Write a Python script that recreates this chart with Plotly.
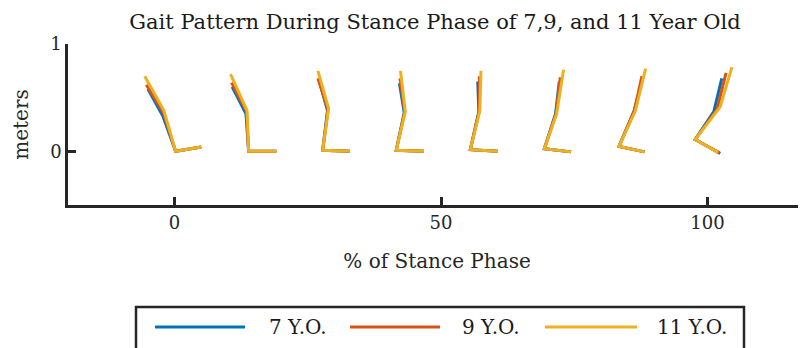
import plotly.graph_objects as go

# ---------------- data (metres / % stance) ----------------
series_names = ["7 Y.O.", "9 Y.O.", "11 Y.O."]
series_colors = ["#0072BD", "#D95319", "#EDB120"]

# 7 Y.O.
hip_x_7 = [-5.0, 10.8, 27.1, 42.2, 56.9, 72.2, 87.7, 102.7]
hip_y_7 = [0.58, 0.60, 0.665, 0.635, 0.65, 0.65, 0.65, 0.68]
knee_x_7 = [-2.2, 13.4, 28.7, 43.1, 57.1, 71.5, 86.2, 101.2]
knee_y_7 = [0.33, 0.35, 0.38, 0.36, 0.37, 0.35, 0.37, 0.37]
ankle_x_7 = [0.2, 13.9, 27.8, 41.6, 55.5, 69.4, 83.4, 97.7]
ankle_y_7 = [0.00, 0.00, 0.01, 0.01, 0.015, 0.025, 0.045, 0.11]
toe_x_7 = [5.0, 19.1, 32.9, 46.8, 60.7, 74.4, 88.2, 102.4]
toe_y_7 = [0.04, 0.00, 0.00, 0.00, 0.00, -0.005, -0.005, -0.02]

# 9 Y.O.
hip_x_9 = [-5.3, 10.7, 26.9, 42.3, 57.2, 72.4, 87.7, 103.5]
hip_y_9 = [0.62, 0.64, 0.68, 0.68, 0.70, 0.69, 0.70, 0.73]
knee_x_9 = [-2.1, 13.5, 28.8, 43.2, 57.2, 71.6, 86.3, 101.8]
knee_y_9 = [0.36, 0.37, 0.39, 0.37, 0.38, 0.35, 0.38, 0.39]
ankle_x_9 = [0.2, 13.9, 27.8, 41.6, 55.5, 69.4, 83.4, 97.7]
ankle_y_9 = [0.00, 0.00, 0.01, 0.01, 0.015, 0.025, 0.045, 0.11]
toe_x_9 = [5.0, 19.1, 32.9, 46.8, 60.7, 74.4, 88.2, 102.3]
toe_y_9 = [0.04, 0.00, 0.00, 0.00, 0.00, -0.005, -0.005, -0.015]

# 11 Y.O.
hip_x_11 = [-5.6, 10.5, 26.9, 42.4, 57.5, 73.0, 88.4, 104.6]
hip_y_11 = [0.70, 0.72, 0.75, 0.75, 0.75, 0.76, 0.77, 0.785]
knee_x_11 = [-2.0, 13.6, 28.9, 43.3, 57.3, 71.7, 86.5, 102.4]
knee_y_11 = [0.38, 0.38, 0.40, 0.37, 0.38, 0.35, 0.38, 0.415]
ankle_x_11 = [0.2, 13.9, 27.8, 41.6, 55.5, 69.4, 83.4, 97.7]
ankle_y_11 = [0.00, 0.00, 0.01, 0.01, 0.015, 0.025, 0.045, 0.11]
toe_x_11 = [5.0, 19.1, 32.9, 46.8, 60.7, 74.4, 88.2, 102.0]
toe_y_11 = [0.04, 0.00, 0.00, 0.00, 0.00, -0.005, -0.005, -0.01]

x_ticks = [0, 50, 100]
y_ticks = [0, 1]

series = [
    (hip_x_7, hip_y_7, knee_x_7, knee_y_7, ankle_x_7, ankle_y_7, toe_x_7, toe_y_7),
    (hip_x_9, hip_y_9, knee_x_9, knee_y_9, ankle_x_9, ankle_y_9, toe_x_9, toe_y_9),
    (hip_x_11, hip_y_11, knee_x_11, knee_y_11, ankle_x_11, ankle_y_11, toe_x_11, toe_y_11),
]

FONT = "DejaVu Serif"
AX = "#262626"
TXT = "#1a1a1a"

fig = go.Figure()
for name, color, s in zip(series_names, series_colors, series):
    hx, hy, kx, ky, ax_, ay, tx, ty = s
    xs, ys = [], []
    for i in range(len(hx)):
        xs += [hx[i], kx[i], ax_[i], tx[i], None]
        ys += [hy[i], ky[i], ay[i], ty[i], None]
    fig.add_trace(go.Scatter(x=xs, y=ys, mode="lines", name=name,
                             line=dict(color=color, width=3),
                             showlegend=False, hoverinfo="skip"))

# ---------------- layout geometry (page has an 8px body margin) ----------------
W, H = 798, 340
ml, mr, mt, mb = 60, 0, 36, 143
PL, PR, PT, PB = 68, 806, 44, 205   # plot area in page pixels


def px2x(px):
    return (px - PL) / (PR - PL)


def py2y(py):
    return (PB - py) / (PB - PT)


# ---------------- manual legend (long sample lines like MATLAB) ----------------
shapes = [dict(type="rect", xref="paper", yref="paper",
               x0=px2x(136), x1=px2x(744), y0=py2y(360), y1=py2y(307),
               line=dict(color=AX, width=2.5), fillcolor="white", layer="above")]
annots = []
leg_line_x = [(155, 245), (350, 440), (545, 637)]
leg_text_x = [267, 460, 655]
for (x0, x1), tx0, name, color in zip(leg_line_x, leg_text_x, series_names, series_colors):
    shapes.append(dict(type="line", xref="paper", yref="paper",
                       x0=px2x(x0), x1=px2x(x1), y0=py2y(327), y1=py2y(327),
                       line=dict(color=color, width=3), layer="above"))
    annots.append(dict(text=name, xref="paper", yref="paper", x=px2x(tx0), y=py2y(327),
                       xanchor="left", yanchor="middle", showarrow=False,
                       font=dict(family=FONT, size=20, color=TXT)))

fig.update_layout(
    width=W, height=H,
    margin=dict(l=ml, r=mr, t=mt, b=mb, autoexpand=False),
    paper_bgcolor="white", plot_bgcolor="white",
    font=dict(family=FONT, size=18, color=AX),
    title=dict(text="Gait Pattern During Stance Phase of 7,9, and 11 Year Old",
               x=px2x(435), xref="paper", xanchor="center", y=1 - 14 / H, yanchor="middle",
               font=dict(family=FONT, size=21, color=TXT)),
    xaxis=dict(range=[-20, 118.5], tickvals=x_ticks, ticks="inside", ticklen=8,
               tickwidth=2.5, tickcolor=AX, showline=True, linecolor=AX, linewidth=2.5,
               showgrid=False, zeroline=False, automargin=False,
               tickfont=dict(family=FONT, size=18, color=AX),
               title=dict(text="% of Stance Phase", standoff=22,
                          font=dict(family=FONT, size=20, color=AX))),
    yaxis=dict(range=[-0.5, 1], tickvals=y_ticks, ticks="inside", ticklen=8,
               tickwidth=2.5, tickcolor=AX, showline=True, linecolor=AX, linewidth=2.5,
               showgrid=False, zeroline=False, automargin=False,
               tickfont=dict(family=FONT, size=18, color=AX),
               title=dict(text="meters", standoff=17,
                          font=dict(family=FONT, size=20, color=AX))),
    shapes=shapes, annotations=annots,
)

fig.write_html("out.html")
